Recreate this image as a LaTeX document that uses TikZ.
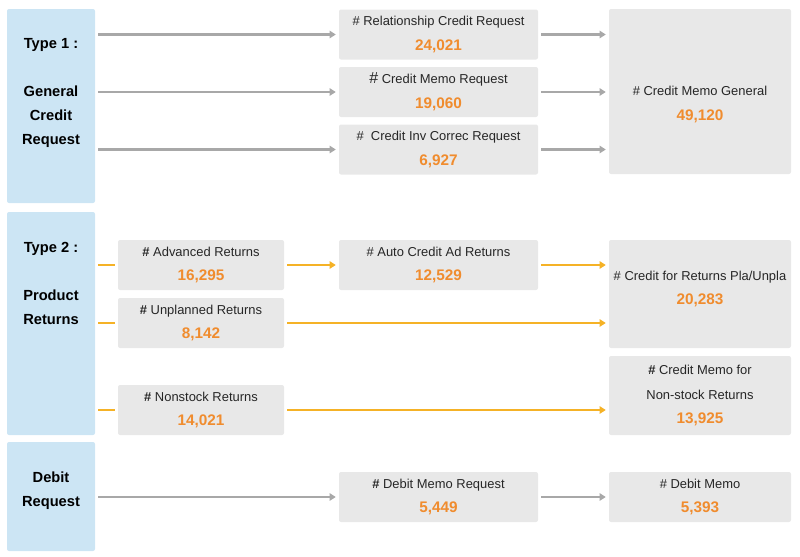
\documentclass[tikz,border=0pt]{standalone}
\usepackage{fontspec}
\setmainfont{Liberation Sans}
\usetikzlibrary{arrows.meta}
\definecolor{cde6f4}{rgb}{0.80,0.90,0.955}
\definecolor{e8e8e8}{rgb}{0.91,0.91,0.91}
\definecolor{aaaaaa}{rgb}{0.66,0.66,0.66}
\definecolor{f5b324}{rgb}{0.96,0.70,0.15}
\definecolor{f08c2e}{rgb}{0.94,0.55,0.18}
\definecolor{tttttt}{rgb}{0.15,0.15,0.15}
\newcommand{\cnt}[2]{#1\\{\fontsize{11.5}{18.5}\selectfont\bfseries\color{f08c2e}#2}}
\tikzset{
  typebox/.style={fill=cde6f4,rounded corners=1.5pt,minimum width=66pt},
  typetxt/.style={align=center,text=black,font=\fontsize{11}{18}\selectfont\bfseries},
  gbox/.style={fill=e8e8e8,rounded corners=1.5pt,align=center,text=tttttt,font=\fontsize{9.7}{18.5}\selectfont,inner sep=0pt},
  gtxt/.style={align=center,text=tttttt,font=\fontsize{9.7}{18.5}\selectfont,inner sep=0pt},
  gline/.style={aaaaaa,line width=1.7pt,shorten >=2.25pt,shorten <=2.25pt},
  oline/.style={f5b324,line width=1.7pt,shorten >=2.25pt,shorten <=2.25pt}
}
\begin{document}
\begin{tikzpicture}[line cap=butt,line join=round,>={Triangle[length=4.5pt,width=5.5pt]},x=0.75pt,y=-0.75pt]
	\useasboundingbox (0,0) rectangle (800,557);
	\node[typebox,minimum height=145.5pt] (t1) at (51,106) {};
	\node[typebox,minimum height=167.25pt] (t2) at (51,323.5) {};
	\node[typebox,minimum height=81.75pt] (dr) at (51,496.5) {};
	\node[typetxt] (t1txt) at (51,93) {Type 1 :\\[18pt]General\\Credit\\Request};
	\node[typetxt] (t2txt) at (51,283) {Type 2 :\\[18pt]Product\\Returns};
	\node[typetxt] (drtxt) at (51,491) {Debit\\Request};
	\node[gbox,minimum width=149.25pt,minimum height=37.5pt] (rel) at (438.5,34.5) {\cnt{\# Relationship Credit Request}{24,021}};
	\node[gbox,minimum width=149.25pt,minimum height=37.5pt] (cmr) at (438.5,92) {\cnt{{\large\#} Credit Memo Request}{19,060}};
	\node[gbox,minimum width=149.25pt,minimum height=37.5pt] (inv) at (438.5,149.5) {\cnt{\#\ \ Credit Inv Correc Request}{6,927}};
	\node[gbox,minimum width=136.5pt,minimum height=123.75pt] (cmg) at (700,91.5) {};
	\node[gtxt] (cmgtxt) at (700,104.5) {\cnt{\# Credit Memo General}{49,120}};
	\node[gbox,minimum width=124.5pt,minimum height=37.5pt] (adv) at (201,265) {\cnt{\textbf{\#} Advanced Returns}{16,295}};
	\node[gbox,minimum width=124.5pt,minimum height=37.5pt] (unp) at (201,323) {\cnt{\textbf{\#} Unplanned Returns}{8,142}};
	\node[gbox,minimum width=124.5pt,minimum height=37.5pt] (non) at (201,410) {\cnt{\textbf{\#} Nonstock Returns}{14,021}};
	\node[gbox,minimum width=149.25pt,minimum height=37.5pt] (auto) at (438.5,265) {\cnt{\# Auto Credit Ad Returns}{12,529}};
	\node[gbox,minimum width=136.5pt,minimum height=81pt] (cfr) at (700,294) {};
	\node[gtxt] (cfrtxt) at (700,289) {\cnt{\# Credit for Returns Pla/Unpla}{20,283}};
	\node[gbox,minimum width=136.5pt,minimum height=59.25pt] (cms) at (700,395.5) {\textbf{\#} Credit Memo for\\\cnt{Non-stock Returns}{13,925}};
	\node[gbox,minimum width=149.25pt,minimum height=37.5pt] (dmr) at (438.5,497) {\cnt{\textbf{\#} Debit Memo Request}{5,449}};
	\node[gbox,minimum width=136.5pt,minimum height=37.5pt] (dm) at (700,497) {\cnt{\# Debit Memo}{5,393}};
	\foreach \b in {rel,cmr,inv}{
		\draw[gline,->] (t1.east |- \b.west) -- (\b.west);
		\draw[gline,->] (\b.east) -- (\b.east -| cmg.west);
	}
	\foreach \b in {adv,unp,non}
		\draw[oline] (t2.east |- \b.west) -- (\b.west);
	\draw[oline,->] (adv.east) -- (auto.west);
	\draw[oline,->] (auto.east) -- (auto.east -| cfr.west);
	\draw[oline,->] (unp.east) -- (unp.east -| cfr.west);
	\draw[oline,->] (non.east) -- (non.east -| cms.west);
	\draw[gline,->] (dr.east |- dmr.west) -- (dmr.west);
	\draw[gline,->] (dmr.east) -- (dm.west);
\end{tikzpicture}
\end{document}
